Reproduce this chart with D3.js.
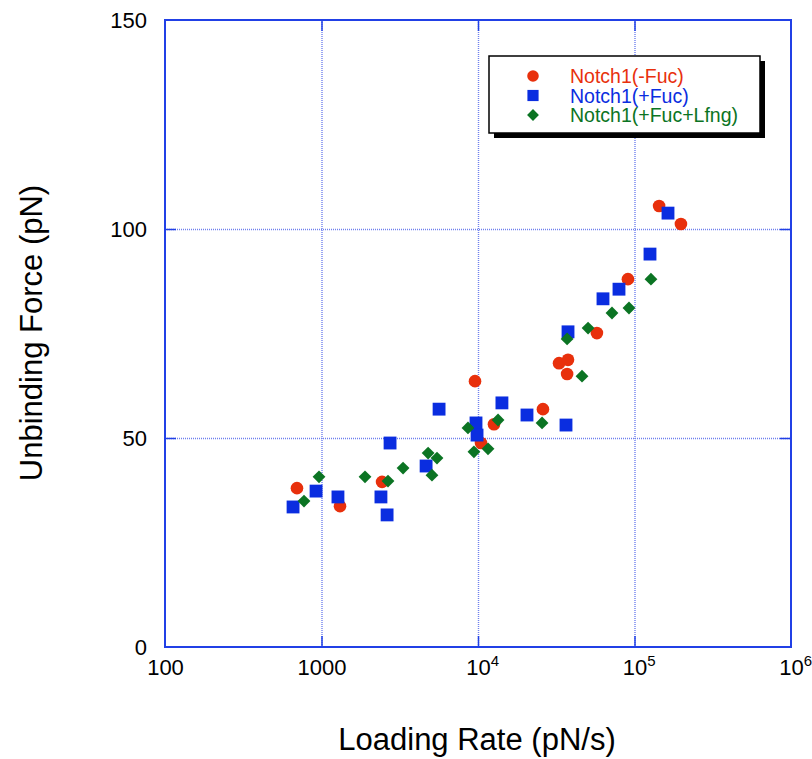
<!DOCTYPE html>
<html>
<head>
<meta charset="utf-8">
<script src="https://cdn.jsdelivr.net/npm/d3@7"></script>
<style>
  body { margin: 0; background: #fff; }
  svg { font-family: "Liberation Sans", Arial, sans-serif; }
</style>
</head>
<body>
<svg width="812" height="759"></svg>
<script>
// loading rate (pN/s), unbinding force (pN)
var minusFuc = [
  [697, 38.0], [1313, 33.7], [2438, 39.5], [9570, 63.6], [12650, 53.3],
  [10450, 48.8], [26000, 56.9], [32950, 67.9], [37600, 68.7], [37100, 65.3],
  [57500, 75.1], [90800, 88.0], [143600, 105.5], [198000, 101.2]
];
var plusFuc = [
  [658, 33.5], [923, 37.3], [1274, 35.9], [2398, 35.9], [2625, 31.6],
  [2742, 48.8], [4660, 43.3], [5640, 56.9], [9710, 53.6], [9860, 50.7],
  [14220, 58.4], [20560, 55.5], [36500, 53.1], [37600, 75.4], [62900, 83.3],
  [79600, 85.6], [125600, 94.0], [163700, 103.8]
];
var plusFucLfng = [
  [773, 34.9], [964, 40.7], [1897, 40.7], [2660, 39.7], [3320, 42.8],
  [4800, 46.4], [5470, 45.2], [5080, 41.1], [8630, 52.4], [9420, 46.7],
  [11590, 47.4], [13430, 54.3], [25660, 53.6], [46200, 64.8], [37100, 73.7],
  [50500, 76.3], [71800, 79.9], [92200, 81.1], [127400, 88.0]
];
var xTicks = [100, 1000, 1e4, 1e5, 1e6];
var xTickLabels = ["100", "1000", "10^4", "10^5", "10^6"];
var yTicks = [0, 50, 100, 150];
var seriesNames = ["Notch1(-Fuc)", "Notch1(+Fuc)", "Notch1(+Fuc+Lfng)"];

var red = "#e8300c", blue = "#0a2de0", green = "#0b7423";
var frame = "#2140e6", gridCol = "#6f80ee";

var svg = d3.select("svg"),
    margin = {top: 20, right: 21, bottom: 112, left: 165},
    width = +svg.attr("width") - margin.left - margin.right,
    height = +svg.attr("height") - margin.top - margin.bottom;

var g = svg.append("g")
    .attr("transform", "translate(" + margin.left + "," + margin.top + ")");

var x = d3.scaleLog().domain([100, 1e6]).range([0, width]);
var y = d3.scaleLinear().domain([0, 150]).range([height, 0]);

// dotted grid
g.append("g")
    .call(d3.axisBottom(x).tickValues(xTicks.slice(1, -1)).tickSize(height).tickFormat(""))
    .call(function(s) {
      s.select(".domain").remove();
      s.selectAll("line").attr("stroke", gridCol).attr("stroke-width", 1.4).attr("stroke-dasharray", "1,1");
    });
g.append("g")
    .call(d3.axisLeft(y).tickValues([50, 100]).tickSize(-width).tickFormat(""))
    .call(function(s) {
      s.select(".domain").remove();
      s.selectAll("line").attr("stroke", gridCol).attr("stroke-width", 1.4).attr("stroke-dasharray", "1,1");
    });

// inward ticks on all four sides
function ticks() {
  return function(s) {
    s.select(".domain").remove();
    s.selectAll("line").attr("stroke", frame).attr("stroke-width", 1.5);
  };
}
g.append("g").attr("transform", "translate(0," + height + ")")
    .call(d3.axisTop(x).tickValues(xTicks.slice(1, -1)).tickSize(11).tickFormat(""))
    .call(ticks());
g.append("g")
    .call(d3.axisBottom(x).tickValues(xTicks.slice(1, -1)).tickSize(11).tickFormat(""))
    .call(ticks());
g.append("g")
    .call(d3.axisRight(y).tickValues([50, 100]).tickSize(11).tickFormat(""))
    .call(ticks());
g.append("g").attr("transform", "translate(" + width + ",0)")
    .call(d3.axisLeft(y).tickValues([50, 100]).tickSize(11).tickFormat(""))
    .call(ticks());

// frame
g.append("rect")
    .attr("width", width).attr("height", height)
    .attr("fill", "none").attr("stroke", frame).attr("stroke-width", 2);

// tick labels
var xAx = g.append("g").attr("transform", "translate(0," + height + ")")
    .call(d3.axisBottom(x).tickValues(xTicks).tickSize(0).tickPadding(12)
      .tickFormat(function(d, i) { return xTickLabels[i]; }));
xAx.select(".domain").remove();
xAx.selectAll("text")
    .attr("font-size", 22).attr("fill", "#000").attr("dy", "0.71em")
    .each(function(d, i) {
      var parts = xTickLabels[i].split("^");
      var t = d3.select(this).text(parts[0]);
      if (parts[1]) {
        t.attr("text-anchor", "start").attr("dx", "-0.56em");
        t.append("tspan").attr("font-size", 15).attr("dy", "-0.55em").text(parts[1]);
      }
    });

var yAx = g.append("g")
    .call(d3.axisLeft(y).tickValues(yTicks).tickSize(0).tickPadding(18));
yAx.select(".domain").remove();
yAx.selectAll("text").attr("font-size", 22).attr("fill", "#000");

// axis titles
svg.append("text")
    .attr("x", 477).attr("y", 750)
    .attr("text-anchor", "middle").attr("font-size", 31)
    .text("Loading Rate (pN/s)");
svg.append("text")
    .attr("transform", "translate(42," + 333 + ") rotate(-90)")
    .attr("text-anchor", "middle").attr("font-size", 31)
    .text("Unbinding Force (pN)");

// markers (diamond = square turned 45 degrees)
var sym = [
  d3.symbol().type(d3.symbolCircle).size(125),
  d3.symbol().type(d3.symbolSquare).size(165),
  d3.symbol().type(d3.symbolSquare).size(82)
];
var colors = [red, blue, green];
var data = [minusFuc, plusFuc, plusFucLfng];

data.forEach(function(series, k) {
  g.append("g").selectAll("path")
    .data(series)
    .enter().append("path")
    .attr("transform", function(d) {
      var r = "translate(" + x(d[0]) + "," + y(d[1]) + ")";
      return k === 2 ? r + " rotate(45)" : r;
    })
    .attr("d", sym[k])
    .attr("fill", colors[k]);
});

// legend
var lg = svg.append("g").attr("transform", "translate(489,56)");
lg.append("rect").attr("x", 5).attr("y", 5).attr("width", 271).attr("height", 77).attr("fill", "#000");
lg.append("rect").attr("width", 271).attr("height", 77)
    .attr("fill", "#fff").attr("stroke", "#000").attr("stroke-width", 1.5);
seriesNames.forEach(function(name, k) {
  var yy = 20 + k * 19.5;
  lg.append("path")
    .attr("transform", "translate(44," + yy + ")" + (k === 2 ? " rotate(45)" : ""))
    .attr("d", sym[k].size([105, 125, 70][k]))
    .attr("fill", colors[k]);
  lg.append("text")
    .attr("x", 81).attr("y", yy).attr("dy", "0.36em")
    .attr("font-size", 19.5).attr("fill", colors[k])
    .text(name);
});
</script>
</body>
</html>
